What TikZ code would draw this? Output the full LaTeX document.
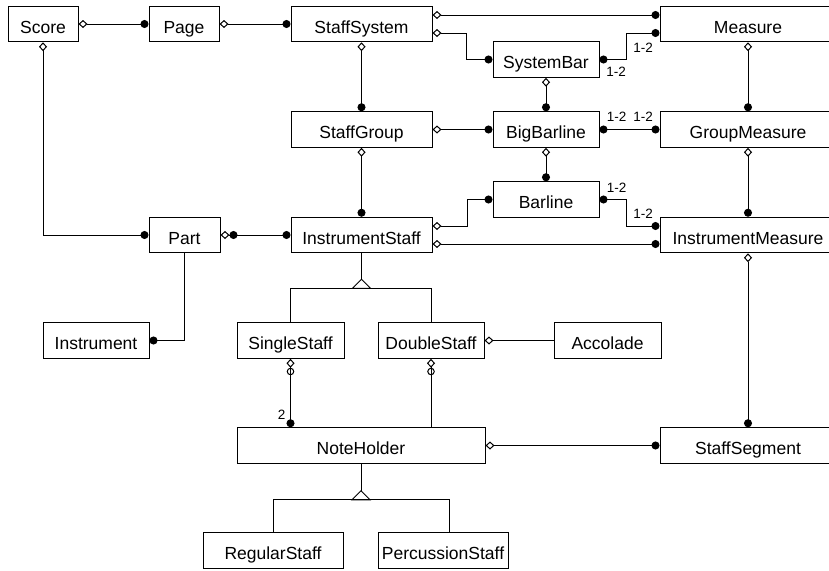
\documentclass[tikz,border=0pt]{standalone}
\usepackage{fontspec}
\setmainfont{Liberation Sans}
\usepackage{tikz}
\usetikzlibrary{arrows.meta}
\tikzset{
  classbox/.style={draw, line width=1pt, rectangle, minimum height=35.5pt, inner sep=0pt, text height=18.4pt, text depth=0pt, font=\fontsize{17.5}{20}\selectfont},
  mult/.style={inner sep=0pt, font=\fontsize{13.5}{15}\selectfont},
  link/.style={line width=1pt},
  agg/.style={link, {Diamond[open,length=9pt,width=8pt]}-{Circle[length=8pt]}},
  aggonly/.style={link, {Diamond[open,length=9pt,width=8pt]}-},
  aggdot/.style={link, {Diamond[open,length=9pt,width=8pt] Circle[length=8pt]}-{Circle[length=8pt]}},
  aggopt/.style={link, {Diamond[open,length=9pt,width=8pt] Circle[open,length=7.5pt]}-{Circle[length=8pt]}},
  aggoptonly/.style={link, {Diamond[open,length=9pt,width=8pt] Circle[open,length=7.5pt]}-},
  dots/.style={link, {Circle[length=8pt]}-{Circle[length=8pt]}},
  one/.style={link, -{Circle[length=8pt]}},
  gen/.style={link, fill=white}
}
\newcommand{\drawclass}[4]{
  \node[classbox, minimum width=#3] (#1) at #2 {#4};
}

\begin{document}
\begin{tikzpicture}[x=1pt,y=-1pt]
      \useasboundingbox (0,0) rectangle (829,570);
      \drawclass{score}{(43,24)}{70pt}{Score};
      \drawclass{page}{(184,24)}{70pt}{Page};
      \drawclass{staffsystem}{(361.5,24)}{141pt}{StaffSystem};
      \drawclass{measure}{(748,24)}{176pt}{Measure};
      \drawclass{systembar}{(546,59.5)}{106pt}{SystemBar};
      \drawclass{staffgroup}{(361.5,129.5)}{141pt}{StaffGroup};
      \drawclass{bigbarline}{(546,129.5)}{106pt}{BigBarline};
      \drawclass{groupmeasure}{(748,129.5)}{176pt}{GroupMeasure};
      \drawclass{barline}{(546,199.5)}{106pt}{Barline};
      \drawclass{part}{(184.5,235)}{71pt}{Part};
      \drawclass{instrumentstaff}{(361.5,235)}{141pt}{InstrumentStaff};
      \drawclass{instrumentmeasure}{(748,235)}{176pt}{InstrumentMeasure};
      \drawclass{instrument}{(96,340.5)}{106pt}{Instrument};
      \drawclass{singlestaff}{(290.5,340.5)}{107pt}{SingleStaff};
      \drawclass{doublestaff}{(431,340.5)}{106pt}{DoubleStaff};
      \drawclass{accolade}{(607.5,340.5)}{107pt}{Accolade};
      \drawclass{noteholder}{(361,445.5)}{248pt}{NoteHolder};
      \drawclass{staffsegment}{(748,445.5)}{176pt}{StaffSegment};
      \drawclass{regularstaff}{(273,550.5)}{140pt}{RegularStaff};
      \drawclass{percussionstaff}{(443,550.5)}{130pt}{PercussionStaff};
      %% top rows
      \draw[agg] (score.east) -- (page.west);
      \draw[agg] (page.east) -- (staffsystem.west);
      \draw[agg] ([yshift=9pt]staffsystem.east) -- ([yshift=9pt]measure.west);
      \draw[agg] ([yshift=-9pt]staffsystem.east) -- ++(34,0) |- (systembar.west);
      \draw[dots] (systembar.east) -- ++(26.5,0) |- ([yshift=-9pt]measure.west);
      \node[mult] (m1) at (616,72) {1-2};
      \node[mult] (m2) at (643,47.5) {1-2};
      \draw[agg] (staffsystem.south) -- (staffgroup.north);
      \draw[agg] (systembar.south) -- (bigbarline.north);
      \draw[agg] (measure.south) -- (groupmeasure.north);
      \draw[agg] (staffgroup.east) -- (bigbarline.west);
      \draw[dots] (bigbarline.east) -- (groupmeasure.west);
      \node[mult] (m3) at (616.5,117) {1-2};
      \node[mult] (m4) at (643,117) {1-2};
      \draw[agg] (staffgroup.south) -- (instrumentstaff.north);
      \draw[agg] (bigbarline.south) -- (barline.north);
      \draw[agg] (groupmeasure.south) -- (instrumentmeasure.north);
      \draw[agg] ([yshift=9pt]instrumentstaff.east) -- ++(34.5,0) |- (barline.west);
      \draw[dots] (barline.east) -- ++(26.5,0) |- ([yshift=9pt]instrumentmeasure.west);
      \node[mult] (m5) at (616.5,187.5) {1-2};
      \node[mult] (m6) at (643,213.5) {1-2};
      \draw[agg] ([yshift=-9pt]instrumentstaff.east) -- ([yshift=-9pt]instrumentmeasure.west);
      %% parts
      \draw[agg] (score.south) |- (part.west);
      \draw[aggdot] (part.east) -- (instrumentstaff.west);
      \draw[one] (part.south) |- (instrument.east);
      %% staff kinds
      \draw[link] (instrumentstaff.south) -- ++(0,26) coordinate (gs1);
      \draw[gen] (gs1) -- ++(-9,9) -- ++(18,0) -- cycle;
      \draw[link] (singlestaff.north) |- ([yshift=-9pt]gs1) -| (doublestaff.north);
      \draw[aggopt] (singlestaff.south) -- (singlestaff.south |- noteholder.north);
      \node[mult] (m7) at (281.5,415) {2};
      \draw[aggoptonly] (doublestaff.south) -- (doublestaff.south |- noteholder.north);
      \draw[aggonly] (doublestaff.east) -- (accolade.west);
      \draw[agg] (instrumentmeasure.south) -- (staffsegment.north);
      \draw[agg] (noteholder.east) -- (staffsegment.west);
      \draw[link] (noteholder.south) -- ++(0,27) coordinate (gs2);
      \draw[gen] (gs2) -- ++(-9,9) -- ++(18,0) -- cycle;
      \draw[link] (regularstaff.north) |- ([yshift=-9pt]gs2) -| ([xshift=6pt]percussionstaff.north);
\end{tikzpicture}
\end{document}
